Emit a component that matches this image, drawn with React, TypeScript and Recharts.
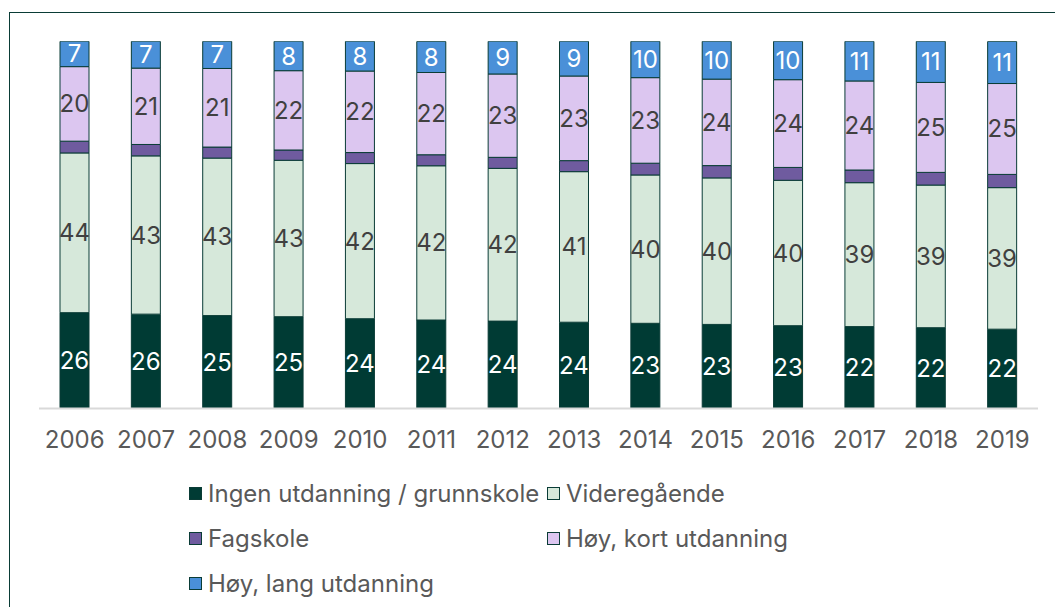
import React from "react";
import { BarChart, Bar, XAxis, YAxis, LabelList, Legend } from "recharts";

const years = ["2006", "2007", "2008", "2009", "2010", "2011", "2012", "2013", "2014", "2015", "2016", "2017", "2018", "2019"];
const ingen = [26.1, 25.7, 25.3, 25.0, 24.45, 24.1, 23.8, 23.5, 23.2, 22.9, 22.55, 22.3, 22.0, 21.6];
const videregaende = [43.5, 43.1, 42.9, 42.6, 42.25, 42.0, 41.6, 41.0, 40.4, 39.9, 39.6, 39.2, 38.85, 38.55];
const fagskole = [3.2, 3.1, 3.0, 2.8, 3.0, 3.0, 3.0, 3.0, 3.2, 3.35, 3.5, 3.45, 3.45, 3.6];
const hoyKort = [20.3, 20.8, 21.4, 21.6, 22.2, 22.4, 22.7, 23.05, 23.3, 23.55, 23.9, 24.25, 24.5, 24.75];
const hoyLang = [6.9, 7.3, 7.4, 8.0, 8.1, 8.45, 8.9, 9.45, 9.9, 10.3, 10.45, 10.8, 11.2, 11.45];

const seriesNames = ["Ingen utdanning / grunnskole", "Videregående", "Fagskole", "Høy, kort utdanning", "Høy, lang utdanning"];
const seriesKeys = ["ingen", "vid", "fag", "hk", "hl"];
const seriesColors = ["#003b34", "#d6e8da", "#6f5b9f", "#dcc6f0", "#4a90d8"];
const labelColors = ["#ffffff", "#404040", null, "#404040", "#ffffff"];

const data = years.map((y, i) => ({
  year: y,
  ingen: ingen[i],
  vid: videregaende[i],
  fag: fagskole[i],
  hk: hoyKort[i],
  hl: hoyLang[i],
}));

const FONT = "Inter, 'Noto Sans', sans-serif";

const legendPos = [
  { left: 189, top: 493 },
  { left: 547, top: 493 },
  { left: 189, top: 538 },
  { left: 547, top: 538 },
  { left: 189, top: 583 },
];

const LegendContent = () => (
  <div style={{ position: "relative", width: 1055, height: 140 }}>
    {seriesNames.map((n, i) => (
      <div
        key={n}
        style={{
          position: "absolute",
          left: legendPos[i].left,
          top: legendPos[i].top - 470 - 15,
          height: 30,
          display: "flex",
          alignItems: "center",
          whiteSpace: "nowrap",
          fontFamily: FONT,
          fontSize: 24,
          color: "#595959",
        }}
      >
        <span
          style={{
            display: "inline-block",
            width: 11,
            height: 11,
            background: seriesColors[i],
            border: "1px solid #0a3c36",
            marginRight: 6,
          }}
        />
        <span>{n}</span>
      </div>
    ))}
  </div>
);

export default function App() {
  return (
    <div style={{ position: "absolute", left: 0, top: 0, width: 1055, height: 607, overflow: "hidden", background: "#fff", fontFamily: FONT }}>
      <div style={{ position: "absolute", left: 9, top: 12, width: 1100, height: 700, border: "1px solid #0a3c36", boxSizing: "border-box" }} />
      <div style={{ position: "absolute", left: 0, top: 0 }}>
        <BarChart width={1055} height={607} data={data} margin={{ top: 41.3, right: 17, left: 39, bottom: 158.5 }}>
          <XAxis
            dataKey="year"
            height={40}
            tickLine={false}
            tickSize={0}
            tickMargin={22.5}
            axisLine={{ stroke: "#d9d9d9", strokeWidth: 2 }}
            tick={{ fill: "#595959", fontSize: 24, fontFamily: FONT }}
            interval={0}
          />
          <YAxis hide domain={[0, 100]} allowDataOverflow />
          <Legend
            layout="horizontal"
            verticalAlign="middle"
            align="center"
            wrapperStyle={{ left: 0, top: 470, width: 1055, height: 140 }}
            content={() => <LegendContent />}
          />
          {seriesKeys.map((k, i) => (
            <Bar
              key={k}
              dataKey={k}
              name={seriesNames[i]}
              stackId="a"
              fill={seriesColors[i]}
              stroke="#0a3c36"
              strokeWidth={1}
              barSize={29}
              isAnimationActive={false}
            >
              {labelColors[i] && (
                <LabelList
                  dataKey={k}
                  position="center"
                  fill={labelColors[i] as string}
                  fontSize={24}
                  fontFamily={FONT}
                  formatter={(v: any) => Math.round(Number(v))}
                />
              )}
            </Bar>
          ))}
        </BarChart>
      </div>
    </div>
  );
}
